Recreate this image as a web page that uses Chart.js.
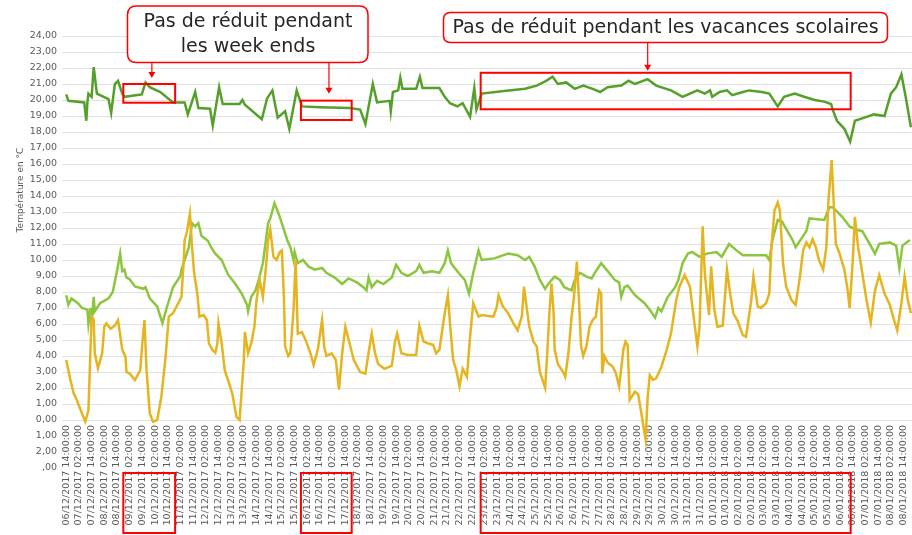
<!DOCTYPE html>
<html lang="fr">
<head>
<meta charset="utf-8">
<title>Températures</title>
<script src="https://cdn.jsdelivr.net/npm/chart.js@4.4.1/dist/chart.umd.min.js"></script>
<style>
  html, body { margin: 0; padding: 0; background: #fff; }
  #wrap { width: 912px; height: 535px; position: relative; }
</style>
</head>
<body>
<div id="wrap"><canvas id="chart" width="912" height="535"></canvas></div>
<script>
// hours counted from 06/12/2017 14:00:00, one label every 12 h
const insideHours = [
  0, 2, 17, 19, 20, 21, 24, 26, 29, 32,
  40, 42.5, 46, 49, 53, 55, 71.5, 75, 79, 89,
  101, 112, 115, 122, 125, 136, 138.6, 144.6, 148, 164,
  166.6, 169, 185, 190, 195, 200, 207, 211, 218, 223,
  240, 268, 278, 283, 290, 294, 306, 307, 309, 314,
  316, 318, 331, 334.5, 337, 353, 358, 363, 370, 375,
  382, 386, 388, 393, 412, 434, 445, 454, 460, 465,
  473, 481, 489, 498, 505, 512, 525, 532, 538, 550,
  558, 572, 583, 597, 604, 609, 611, 618, 625, 630,
  640, 646, 658, 665, 673, 679, 689, 698, 708, 717,
  723.5, 725, 729, 736, 741.5, 746, 755, 764, 774, 780,
  785, 790, 794, 799
];
const insideTemps = [
  20.35, 19.95, 19.85, 18.7, 19.85, 20.4, 20.2, 22.05, 20.4, 20.3,
  20.05, 19.2, 21.0, 21.2, 20.4, 20.2, 20.35, 21.1, 20.8, 20.5,
  19.85, 19.85, 19.1, 20.5, 19.5, 19.45, 18.4, 20.8, 19.75, 19.75,
  20.0, 19.7, 18.8, 20.1, 20.6, 18.9, 19.3, 18.2, 20.6, 19.6,
  19.55, 19.5, 19.4, 18.5, 21.0, 19.85, 19.95, 19.3, 20.5, 20.6,
  21.4, 20.7, 20.7, 21.45, 20.75, 20.75, 20.2, 19.8, 19.6, 19.8,
  18.95, 20.75, 19.4, 20.4, 20.55, 20.7, 20.9, 21.2, 21.45, 21.0,
  21.1, 20.7, 20.9, 20.7, 20.5, 20.8, 20.9, 21.2, 21.0, 21.3,
  20.9, 20.6, 20.2, 20.6, 20.4, 20.6, 20.2, 20.5, 20.6, 20.3,
  20.5, 20.6, 20.5, 20.4, 19.6, 20.2, 20.4, 20.2, 20.0, 19.9,
  19.75, 19.4, 18.7, 18.2, 17.4, 18.7, 18.9, 19.1, 19.0, 20.4,
  20.8, 21.6, 20.2, 18.3
];

const midHours = [
  0, 2, 5, 11, 15, 20, 21, 23, 24, 26,
  27, 32, 40, 44, 48, 51, 53, 55, 57, 60,
  65, 73, 75, 79, 86, 91, 95, 101, 108, 109,
  116, 119, 122, 125, 128, 134, 137, 141, 147, 153,
  160, 166, 171, 172, 175, 179, 182, 186, 191, 193,
  197, 202, 209, 212, 215, 216, 219, 224, 229, 235,
  242, 246, 254, 261, 267, 275, 281, 284, 286, 289,
  294, 300, 308, 312, 317, 323, 331, 334, 338, 346,
  353, 358, 361, 364, 371, 377, 381, 385, 390, 393,
  405, 418, 427, 434, 438, 443, 448, 453, 457, 462,
  467, 471, 478, 481, 486, 492, 497, 501, 506, 511,
  519, 523, 525, 528, 531, 538, 547, 553, 557, 560,
  563, 569, 576, 579, 583, 588, 592, 599, 606, 615,
  620, 627, 634, 640, 649, 662, 665, 668, 673, 677,
  687, 690, 696, 700, 703, 717, 722, 725, 734, 741,
  747, 753, 760, 765, 769, 779, 785, 788, 791, 798
];
const midTemps = [
  7.8, 7.2, 7.6, 7.3, 7.0, 6.9, 6.0, 7.0, 6.0, 7.7,
  6.8, 7.3, 7.6, 8.0, 9.3, 10.4, 9.3, 9.4, 8.9, 8.8,
  8.35, 8.2, 8.3, 7.6, 7.1, 6.05, 7.0, 8.3, 9.0, 9.4,
  10.8, 12.3, 12.1, 12.3, 11.5, 11.2, 10.8, 10.4, 10.0, 9.1,
  8.5, 7.9, 7.2, 6.8, 7.7, 8.1, 8.75, 9.8, 12.3, 12.6,
  13.55, 12.7, 11.25, 10.8, 10.0, 10.5, 9.8, 10.0, 9.6, 9.4,
  9.5, 9.2, 8.9, 8.5, 8.85, 8.6, 8.3, 8.1, 8.9, 8.3,
  8.7, 8.5, 8.9, 9.7, 9.2, 9.0, 9.3, 9.7, 9.2, 9.3,
  9.2, 9.8, 10.6, 9.8, 9.2, 8.75, 7.9, 9.2, 10.6, 10.0,
  10.1, 10.4, 10.3, 10.0, 10.2, 9.6, 8.75, 8.2, 8.6, 8.96,
  8.75, 8.3, 8.1, 8.75, 9.2, 8.96, 8.85, 9.3, 9.8, 9.4,
  8.75, 8.6, 7.7, 8.3, 8.4, 7.8, 7.3, 6.8, 6.4, 7.0,
  6.8, 7.7, 8.3, 8.75, 9.8, 10.4, 10.5, 10.2, 10.4, 10.5,
  10.2, 11.0, 10.6, 10.3, 10.3, 10.3, 10.0, 11.25, 12.5, 12.4,
  11.25, 10.8, 11.4, 11.8, 12.6, 12.5, 13.3, 13.3, 12.7, 12.1,
  11.9, 11.8, 11.0, 10.4, 11.0, 11.1, 10.9, 9.5, 10.9, 11.25
];

const outsideHours = [
  0, 4, 7, 10, 13, 18, 21, 24, 26, 27,
  30, 34, 36, 38, 42, 46, 49, 53, 56, 57,
  60, 65, 70, 72, 74, 76, 79, 82, 86, 90,
  94, 97, 101, 106, 109, 111, 112, 114, 117, 119,
  121, 124, 126, 130, 133, 135, 138, 141, 143, 144,
  147, 150, 153, 157, 161, 164, 168, 169, 172, 175,
  178, 180, 183, 186, 189, 191, 193, 196, 199, 202,
  204, 206, 207, 210, 212, 215, 217, 219, 223, 227,
  231, 234, 238, 242, 244, 246, 251, 255, 258, 261,
  264, 268, 272, 278, 283, 286, 289, 292, 295, 301,
  308, 311, 313, 317, 323, 331, 334, 338, 342, 347,
  350, 353, 358, 361, 363, 366, 369, 372, 375, 379,
  382, 385, 390, 393, 404, 407, 409, 413, 418, 423,
  427, 431, 433, 435, 438, 442, 445, 448, 453, 455,
  457, 459, 461, 462, 465, 470, 472, 475, 478, 480,
  483, 485, 487, 489, 492, 495, 498, 501, 504, 506,
  507, 509, 512, 517, 520, 523, 527, 529, 531, 533,
  538, 541, 544, 546, 548, 550, 552, 555, 558, 563,
  568, 572, 577, 580, 585, 590, 593, 597, 599, 602,
  604, 608, 610, 613, 616, 621, 625, 628, 631, 635,
  640, 643, 648, 650, 654, 657, 662, 665, 667, 670,
  673, 675, 678, 681, 686, 690, 694, 697, 700, 703,
  706, 709, 712, 716, 719, 721, 724, 726, 728, 731,
  736, 739, 741, 744, 746, 749, 752, 755, 757, 761,
  765, 769, 774, 779, 783, 786, 790, 793, 796, 799
];
const outsideTemps = [
  3.75, 2.5, 1.67, 1.25, 0.73, -0.1, 0.6, 6.46, 6.25, 4.17,
  3.23, 4.17, 5.83, 6.04, 5.7, 5.9, 6.25, 4.4, 3.96, 3.0,
  2.9, 2.5, 3.1, 4.8, 6.25, 3.1, 0.42, -0.1, 0.0, 1.46,
  3.96, 6.46, 6.67, 7.3, 7.7, 9.8, 11.25, 11.7, 12.9, 10.8,
  9.17, 7.9, 6.46, 6.56, 6.25, 4.8, 4.4, 4.2, 4.8, 6.04,
  4.8, 3.1, 2.5, 1.67, 0.2, 0.0, 3.75, 5.5, 4.17, 4.8,
  5.83, 7.5, 8.75, 7.7, 9.6, 11.25, 11.9, 10.2, 10.0, 10.5,
  10.6, 7.5, 4.6, 4.0, 4.2, 6.9, 10.0, 5.4, 5.5, 4.9,
  4.17, 3.44, 4.4, 6.25, 4.6, 4.0, 4.17, 3.75, 1.9, 4.17,
  5.83, 4.8, 3.75, 3.0, 2.9, 4.2, 5.4, 4.2, 3.5, 3.2,
  3.4, 4.9, 5.4, 4.17, 4.06, 4.06, 5.9, 4.9, 4.8, 4.7,
  4.17, 4.4, 6.67, 7.8, 6.04, 3.75, 3.1, 2.1, 3.2, 2.7,
  5.2, 7.3, 6.46, 6.56, 6.46, 7.0, 7.8, 7.1, 6.67, 6.04,
  5.6, 6.5, 8.33, 7.3, 5.83, 4.9, 4.6, 3.0, 2.0, 4.17,
  6.67, 8.54, 6.67, 4.4, 3.5, 3.0, 2.7, 4.17, 6.46, 7.5,
  9.9, 7.5, 4.6, 4.0, 4.6, 5.83, 6.25, 6.46, 8.1, 7.9,
  2.9, 4.0, 3.6, 3.33, 2.9, 2.1, 4.4, 4.9, 4.7, 1.25,
  1.77, 1.6, 0.42, -0.42, -1.2, 1.46, 2.8, 2.5, 2.6, 3.33,
  4.4, 5.4, 7.5, 8.33, 9.06, 8.33, 6.67, 4.6, 5.83, 12.1,
  9.17, 6.56, 9.6, 6.9, 5.83, 5.9, 9.4, 7.9, 6.67, 6.2,
  5.3, 5.2, 7.5, 8.96, 7.1, 7.0, 7.3, 7.9, 10.8, 13.1,
  13.6, 13.1, 9.8, 8.33, 7.5, 7.2, 8.96, 10.6, 11.1, 10.8,
  11.3, 10.8, 10.0, 9.4, 10.8, 13.75, 16.25, 13.5, 11.0, 10.5,
  9.4, 8.2, 7.0, 10.0, 12.7, 10.8, 9.6, 8.33, 7.5, 6.1,
  8.1, 9.06, 7.9, 7.2, 6.25, 5.6, 7.3, 8.96, 7.5, 6.67
];

// category labels, every 12 hours
const tickHours = [];
const tickLabels = [];
const pad = n => String(n).padStart(2, '0');
const start = Date.UTC(2017, 11, 6, 14);
for (let i = 0; i <= 66; i++) {
  const d = new Date(start + i * 12 * 3600000);
  tickHours.push(i * 12);
  tickLabels.push(`${pad(d.getUTCDate())}/${pad(d.getUTCMonth() + 1)}/${d.getUTCFullYear()} ${pad(d.getUTCHours())}:00:00`);
}
// below zero only the clipped remains of the labels are visible
const negTickText = ['', '1,00', '2,00', ',00'];

// red frames: hour span and temperature span on the indoor curve
const frameSpans = [[54, 103], [222, 270], [392, 742]];
const frameTemps = [[21.0, 19.83], [19.96, 18.75], [21.7, 19.42]];
const calloutTexts = [['Pas de réduit pendant', 'les week ends'], ['Pas de réduit pendant les vacances scolaires']];

const toPoints = (hs, vs) => hs.map((h, i) => ({x: h, y: vs[i]}));

function roundBox(ctx, x, y, w, h, r) {
  ctx.beginPath();
  ctx.moveTo(x + r, y);
  ctx.lineTo(x + w - r, y);
  ctx.quadraticCurveTo(x + w, y, x + w, y + r);
  ctx.lineTo(x + w, y + h - r);
  ctx.quadraticCurveTo(x + w, y + h, x + w - r, y + h);
  ctx.lineTo(x + r, y + h);
  ctx.quadraticCurveTo(x, y + h, x, y + h - r);
  ctx.lineTo(x, y + r);
  ctx.quadraticCurveTo(x, y, x + r, y);
  ctx.closePath();
}

function arrow(ctx, x, y0, y1) {
  ctx.beginPath();
  ctx.moveTo(x, y0);
  ctx.lineTo(x, y1 - 5);
  ctx.stroke();
  ctx.beginPath();
  ctx.moveTo(x - 3.5, y1 - 6);
  ctx.lineTo(x + 3.5, y1 - 6);
  ctx.lineTo(x, y1);
  ctx.closePath();
  ctx.fill();
}

const notes = {
  id: 'notes',
  afterDraw(chart) {
    const {ctx, chartArea, scales: {x, y}} = chart;
    ctx.save();

    // axis title
    ctx.fillStyle = '#595959';
    ctx.font = '9px "DejaVu Sans"';
    ctx.textAlign = 'center';
    ctx.textBaseline = 'middle';
    ctx.translate(21, 190);
    ctx.rotate(-Math.PI / 2);
    ctx.fillText('Température en °C', 0, 0);
    ctx.setTransform(1, 0, 0, 1, 0, 0);

    ctx.strokeStyle = '#ff0000';
    ctx.fillStyle = '#ff0000';
    ctx.lineWidth = 2;
    frameSpans.forEach((s, i) => {
      const x0 = x.getPixelForValue(s[0]), x1 = x.getPixelForValue(s[1]);
      const t0 = y.getPixelForValue(frameTemps[i][0]), t1 = y.getPixelForValue(frameTemps[i][1]);
      ctx.strokeRect(x0, t0, x1 - x0, t1 - t0);
      // same span in the label band
      ctx.strokeRect(x0, chartArea.bottom + 5, x1 - x0, 60);
    });

    // callout boxes
    ctx.lineWidth = 1.5;
    roundBox(ctx, 127.5, 6, 240.5, 56.5, 9);
    ctx.fillStyle = '#fff';
    ctx.fill();
    ctx.stroke();
    roundBox(ctx, 443.5, 12.5, 444, 30, 7);
    ctx.fill();
    ctx.stroke();

    ctx.fillStyle = '#ff0000';
    ctx.lineWidth = 1.2;
    arrow(ctx, x.getPixelForValue(81), 62.5, y.getPixelForValue(frameTemps[0][0]) - 6);
    arrow(ctx, x.getPixelForValue(248.5), 62.5, y.getPixelForValue(frameTemps[1][0]) - 7);
    arrow(ctx, x.getPixelForValue(550), 42.5, y.getPixelForValue(frameTemps[2][0]) - 2);

    ctx.fillStyle = '#262626';
    ctx.font = '19px "DejaVu Sans"';
    ctx.textAlign = 'center';
    ctx.textBaseline = 'middle';
    ctx.fillText(calloutTexts[0][0], 248, 22);
    ctx.fillText(calloutTexts[0][1], 248, 47);
    ctx.fillText(calloutTexts[1][0], 665.5, 28.5);
    ctx.restore();
  }
};

const line = (label, hs, vs, color) => ({
  label, data: toPoints(hs, vs), borderColor: color, backgroundColor: color,
  borderWidth: 2.5, pointRadius: 0, tension: 0
});

new Chart(document.getElementById('chart'), {
  type: 'line',
  data: {
    datasets: [
      line('Extérieur', outsideHours, outsideTemps, '#e5b41f'),
      line('Départ', midHours, midTemps, '#8cc63e'),
      line('Intérieur', insideHours, insideTemps, '#55a02b')
    ]
  },
  options: {
    responsive: false,
    devicePixelRatio: 1,
    animation: false,
    layout: {padding: {top: 36, bottom: 67, left: 0, right: 0}},
    plugins: {legend: {display: false}, tooltip: {enabled: false}},
    scales: {
      x: {
        type: 'linear',
        position: {y: 0},
        min: -4, max: 800,
        afterBuildTicks: s => { s.ticks = tickHours.map(v => ({value: v})); },
        afterFit: s => { s.height = 0; s.paddingLeft = 0; s.paddingRight = 0; },
        grid: {display: false, drawTicks: false},
        border: {display: false},
        ticks: {
          autoSkip: false, minRotation: 90, maxRotation: 90, padding: 5,
          color: '#595959', font: {family: 'DejaVu Sans', size: 9.5},
          callback: (v, i) => tickLabels[i]
        }
      },
      y: {
        min: -3, max: 24,
        afterFit: s => { s.width = 62; },
        grid: {color: c => c.tick.value < 0 ? 'rgba(0,0,0,0)' : '#e2e2e2', drawTicks: false},
        border: {display: false},
        ticks: {
          stepSize: 1, padding: 5, color: '#595959',
          font: {family: 'DejaVu Sans', size: 9.5},
          callback: v => v >= 0 ? v.toFixed(2).replace('.', ',') : negTickText[-v]
        }
      }
    }
  },
  plugins: [notes]
});
</script>
</body>
</html>
